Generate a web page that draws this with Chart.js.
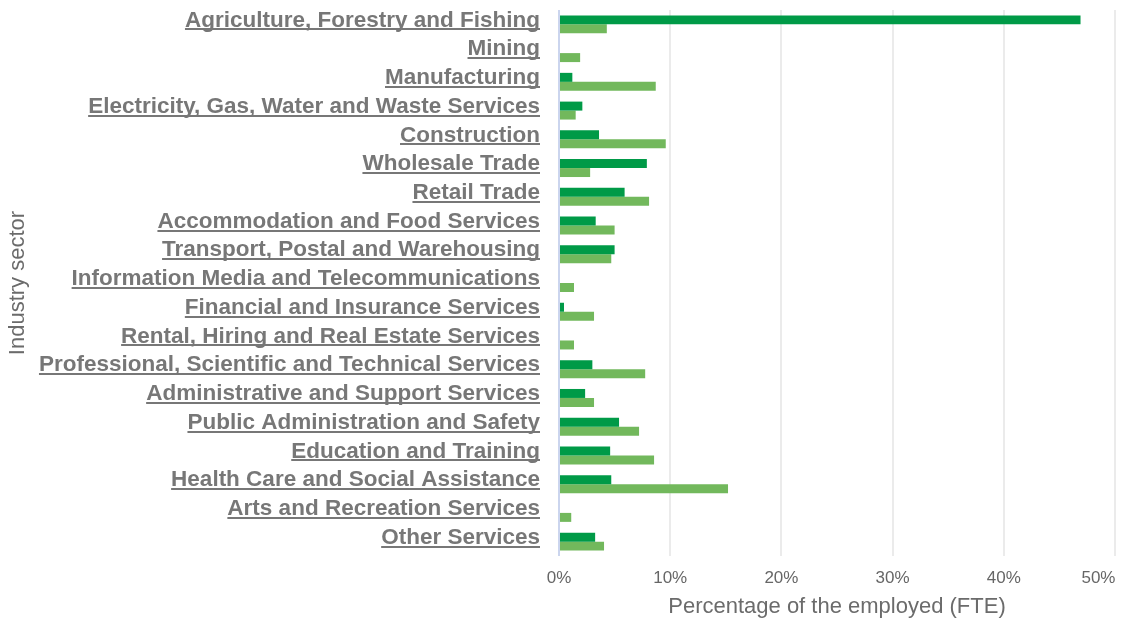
<!DOCTYPE html>
<html>
<head>
<meta charset="utf-8">
<script src="https://cdn.jsdelivr.net/npm/chart.js@4.4.1/dist/chart.umd.min.js"></script>
<style>
  html, body { margin: 0; padding: 0; background: #fff; }
  #wrap { width: 1122px; height: 623px; }
</style>
</head>
<body>
<div id="wrap"><canvas id="chart"></canvas></div>
<script>
// Industry sectors (top to bottom)
const sectors = [
    'Agriculture, Forestry and Fishing',
    'Mining',
    'Manufacturing',
    'Electricity, Gas, Water and Waste Services',
    'Construction',
    'Wholesale Trade',
    'Retail Trade',
    'Accommodation and Food Services',
    'Transport, Postal and Warehousing',
    'Information Media and Telecommunications',
    'Financial and Insurance Services',
    'Rental, Hiring and Real Estate Services',
    'Professional, Scientific and Technical Services',
    'Administrative and Support Services',
    'Public Administration and Safety',
    'Education and Training',
    'Health Care and Social Assistance',
    'Arts and Recreation Services',
    'Other Services'
];

// Percentage of the employed (FTE)
const darkSeries = [46.9, null, 1.2, 2.1, 3.6, 7.9, 5.9, 3.3, 5.0, null, 0.45, null, 3.0, 2.35, 5.4, 4.6, 4.7, null, 3.25];
const lightSeries = [4.3, 1.9, 8.7, 1.5, 9.6, 2.8, 8.1, 5.0, 4.7, 1.35, 3.15, 1.35, 7.75, 3.15, 7.2, 8.55, 15.2, 1.1, 4.05];

// x axis ticks
const xTicks = [0, 10, 20, 30, 40, 50];

const FONT = '"Liberation Sans", Arial, sans-serif';
const LABEL_SIZE = 22.5;
const LABEL_PAD = 19;
const LABEL_SHIFT = -4;

// Chart.js can't underline tick labels, so draw the underline ourselves
const underlinePlugin = {
    id: 'underline',
    afterDraw(chart) {
        const scale = chart.scales.y;
        const ctx = chart.ctx;
        ctx.save();
        ctx.font = 'bold ' + LABEL_SIZE + 'px ' + FONT;
        ctx.strokeStyle = '#777777';
        ctx.lineWidth = 2;
        const right = scale.right - LABEL_PAD;
        scale.ticks.forEach((t, i) => {
            const w = ctx.measureText(sectors[i]).width;
            const y = Math.round(scale.getPixelForTick(i) + LABEL_SHIFT + 9);
            ctx.beginPath();
            ctx.moveTo(right - w, y);
            ctx.lineTo(right, y);
            ctx.stroke();
        });
        ctx.restore();
    }
};

new Chart(document.getElementById('chart'), {
    type: 'bar',
    data: {
        labels: sectors,
        datasets: [
            {
                data: darkSeries,
                backgroundColor: '#009a47',
                categoryPercentage: 0.625,
                barPercentage: 1.0
            },
            {
                data: lightSeries,
                backgroundColor: '#72b85c',
                categoryPercentage: 0.625,
                barPercentage: 1.0
            }
        ]
    },
    options: {
        indexAxis: 'y',
        responsive: true,
        maintainAspectRatio: false,
        animation: false,
        layout: { padding: { top: 10, right: 7, bottom: 3, left: 5 } },
        plugins: {
            legend: { display: false },
            tooltip: { enabled: false }
        },
        scales: {
            x: {
                min: 0,
                max: 50,
                afterBuildTicks: (scale) => { scale.ticks = xTicks.map(v => ({ value: v })); },
                afterFit: (scale) => {
                    scale.height = 64;
                    scale.paddingRight = 0;
                },
                border: { display: false },
                grid: {
                    drawTicks: false,
                    lineWidth: 2,
                    color: (c) => c.tick && c.tick.value === 0 ? '#cbd5ee' : '#ebebeb'
                },
                ticks: {
                    padding: 12,
                    color: '#666666',
                    font: { family: FONT, size: 17 },
                    // last label sits inside the plot edge like the original
                    callback: (v) => v === 50 ? v + '%\u00a0\u00a0\u00a0\u00a0\u00a0\u00a0\u00a0' : v + '%'
                },
                title: {
                    display: true,
                    text: 'Percentage of the employed (FTE)',
                    color: '#6b6b6b',
                    font: { family: FONT, size: 22 },
                    padding: { top: 5, bottom: 0 }
                }
            },
            y: {
                afterFit: (scale) => {
                    scale.width = 554;
                    scale.paddingTop = 0;
                    scale.paddingBottom = 0;
                },
                border: { display: false },
                grid: { display: false, drawTicks: false },
                ticks: {
                    padding: LABEL_PAD,
                    labelOffset: LABEL_SHIFT,
                    color: '#777777',
                    autoSkip: false,
                    font: { family: FONT, size: LABEL_SIZE, weight: 'bold' }
                },
                title: {
                    display: true,
                    text: 'Industry sector',
                    color: '#6b6b6b',
                    font: { family: FONT, size: 22 },
                    padding: { top: 0, bottom: 0 }
                }
            }
        }
    },
    plugins: [underlinePlugin]
});
</script>
</body>
</html>
